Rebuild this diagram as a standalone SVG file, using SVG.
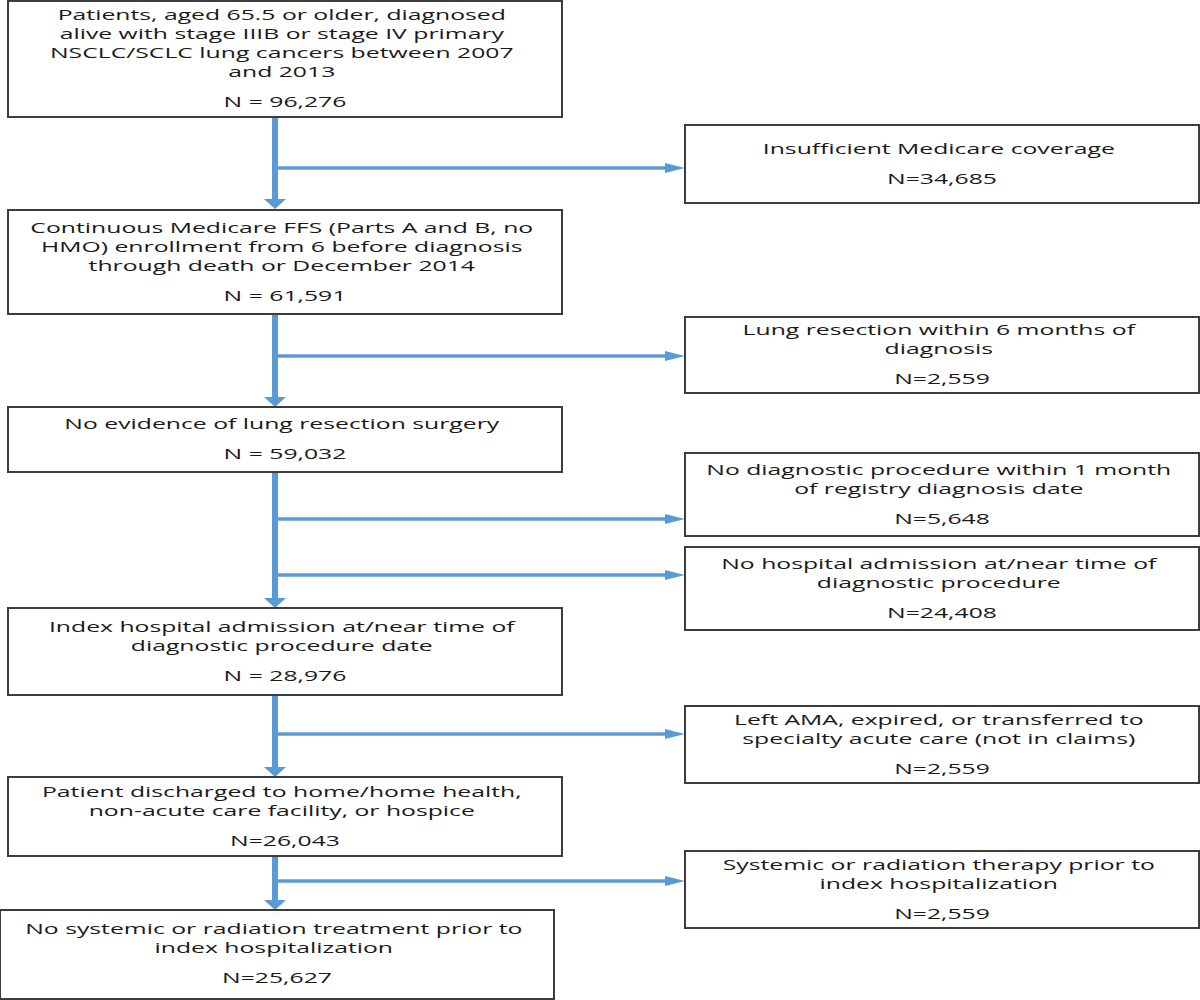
<svg xmlns="http://www.w3.org/2000/svg" width="1200" height="1000" viewBox="0 0 1200 1000">
<style>
.box{fill:#ffffff;stroke:#3c3c3c;stroke-width:2}
.t{font-family:"Open Sans","Liberation Sans",sans-serif;font-size:15px;fill:#1a1a1a;text-anchor:middle}
.v{stroke:#5b9bd5;stroke-width:6;fill:none}
.h{stroke:#5b9bd5;stroke-width:3.5;fill:none}
</style>
<defs>
<marker id="av" markerUnits="userSpaceOnUse" viewBox="0 0 10 22" markerWidth="10" markerHeight="22" refX="0" refY="11" orient="auto">
<path d="M0,0 L10,11 L0,22 Z" fill="#5b9bd5"/>
</marker>
<marker id="ah" markerUnits="userSpaceOnUse" viewBox="0 0 20 10" markerWidth="20" markerHeight="10" refX="0" refY="5" orient="auto">
<path d="M0,0 L20,5 L0,10 Z" fill="#5b9bd5"/>
</marker>
</defs>
<rect width="1200" height="1000" fill="#ffffff"/>

<g id="connectors">
<line class="v" x1="275" y1="117" x2="275" y2="199" marker-end="url(#av)"/>
<line class="h" x1="275" y1="168" x2="665" y2="168" marker-end="url(#ah)"/>
<line class="v" x1="275" y1="314" x2="275" y2="397" marker-end="url(#av)"/>
<line class="h" x1="275" y1="356" x2="665" y2="356" marker-end="url(#ah)"/>
<line class="v" x1="275" y1="472" x2="275" y2="598" marker-end="url(#av)"/>
<line class="h" x1="275" y1="519" x2="665" y2="519" marker-end="url(#ah)"/>
<line class="h" x1="275" y1="575" x2="665" y2="575" marker-end="url(#ah)"/>
<line class="v" x1="275" y1="695" x2="275" y2="767" marker-end="url(#av)"/>
<line class="h" x1="275" y1="734" x2="665" y2="734" marker-end="url(#ah)"/>
<line class="v" x1="275" y1="856" x2="275" y2="900" marker-end="url(#av)"/>
<line class="h" x1="275" y1="881" x2="665" y2="881" marker-end="url(#ah)"/>
</g>

<g id="n1">
<rect class="box" x="8" y="1" width="554" height="116"/>
<text class="t" transform="matrix(1.65 0 0 1 285 0)">
<tspan x="0" y="20">Patients, aged 65.5 or older, diagnosed</tspan>
<tspan x="0" y="39">alive with stage IIIB or stage IV primary</tspan>
<tspan x="0" y="58">NSCLC/SCLC lung cancers between 2007</tspan>
<tspan x="0" y="77">and 2013</tspan>
<tspan x="0" y="107">N = 96,276</tspan>
</text>
</g>

<g id="r1">
<rect class="box" x="685" y="125" width="514" height="78"/>
<text class="t" transform="matrix(1.65 0 0 1 942 0)">
<tspan x="0" y="154">Insufficient Medicare coverage</tspan>
<tspan x="0" y="184">N=34,685</tspan>
</text>
</g>

<g id="n2">
<rect class="box" x="8" y="210" width="554" height="104"/>
<text class="t" transform="matrix(1.65 0 0 1 285 0)">
<tspan x="0" y="233">Continuous Medicare FFS (Parts A and B, no</tspan>
<tspan x="0" y="252">HMO) enrollment from 6 before diagnosis</tspan>
<tspan x="0" y="271">through death or December 2014</tspan>
<tspan x="0" y="301">N = 61,591</tspan>
</text>
</g>

<g id="r2">
<rect class="box" x="685" y="317" width="514" height="76"/>
<text class="t" transform="matrix(1.65 0 0 1 942 0)">
<tspan x="0" y="335">Lung resection within 6 months of</tspan>
<tspan x="0" y="354">diagnosis</tspan>
<tspan x="0" y="384">N=2,559</tspan>
</text>
</g>

<g id="n3">
<rect class="box" x="8" y="407" width="554" height="65"/>
<text class="t" transform="matrix(1.65 0 0 1 285 0)">
<tspan x="0" y="429">No evidence of lung resection surgery</tspan>
<tspan x="0" y="459">N = 59,032</tspan>
</text>
</g>

<g id="r3">
<rect class="box" x="685" y="453" width="514" height="83"/>
<text class="t" transform="matrix(1.65 0 0 1 942 0)">
<tspan x="0" y="475">No diagnostic procedure within 1 month</tspan>
<tspan x="0" y="494">of registry diagnosis date</tspan>
<tspan x="0" y="524">N=5,648</tspan>
</text>
</g>

<g id="r4">
<rect class="box" x="685" y="547" width="514" height="83"/>
<text class="t" transform="matrix(1.65 0 0 1 942 0)">
<tspan x="0" y="569">No hospital admission at/near time of</tspan>
<tspan x="0" y="588">diagnostic procedure</tspan>
<tspan x="0" y="618">N=24,408</tspan>
</text>
</g>

<g id="n4">
<rect class="box" x="8" y="608" width="554" height="87"/>
<text class="t" transform="matrix(1.65 0 0 1 285 0)">
<tspan x="0" y="632">Index hospital admission at/near time of</tspan>
<tspan x="0" y="651">diagnostic procedure date</tspan>
<tspan x="0" y="681">N = 28,976</tspan>
</text>
</g>

<g id="r5">
<rect class="box" x="685" y="706" width="514" height="77"/>
<text class="t" transform="matrix(1.65 0 0 1 942 0)">
<tspan x="0" y="725">Left AMA, expired, or transferred to</tspan>
<tspan x="0" y="744">specialty acute care (not in claims)</tspan>
<tspan x="0" y="774">N=2,559</tspan>
</text>
</g>

<g id="n5">
<rect class="box" x="8" y="777" width="554" height="79"/>
<text class="t" transform="matrix(1.65 0 0 1 285 0)">
<tspan x="0" y="797">Patient discharged to home/home health,</tspan>
<tspan x="0" y="816">non-acute care facility, or hospice</tspan>
<tspan x="0" y="846">N=26,043</tspan>
</text>
</g>

<g id="r6">
<rect class="box" x="685" y="851" width="514" height="77"/>
<text class="t" transform="matrix(1.65 0 0 1 942 0)">
<tspan x="0" y="870">Systemic or radiation therapy prior to</tspan>
<tspan x="0" y="889">index hospitalization</tspan>
<tspan x="0" y="919">N=2,559</tspan>
</text>
</g>

<g id="n6">
<rect class="box" x="0" y="910" width="554" height="89"/>
<text class="t" transform="matrix(1.65 0 0 1 277 0)">
<tspan x="0" y="934">No systemic or radiation treatment prior to</tspan>
<tspan x="0" y="953">index hospitalization</tspan>
<tspan x="0" y="983">N=25,627</tspan>
</text>
</g>
</svg>
